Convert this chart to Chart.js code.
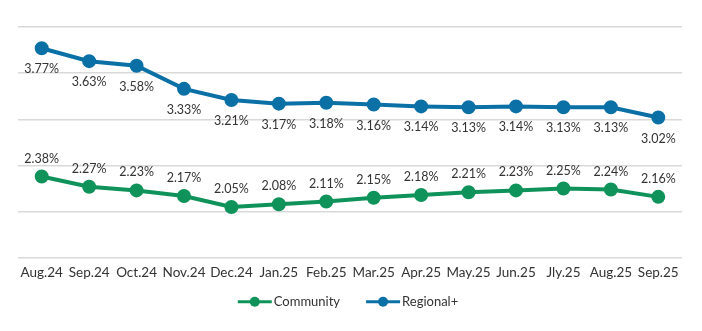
<!DOCTYPE html>
<html>
<head>
<meta charset="utf-8">
<script src="https://cdn.jsdelivr.net/npm/chart.js@4.4.1/dist/chart.umd.min.js"></script>
<style>
  html, body { margin: 0; padding: 0; background: #fff; }
  #wrap { width: 702px; height: 331px; }
</style>
</head>
<body>
<div id="wrap"><canvas id="rates"></canvas></div>
<script>
// monthly rates, %
const months = ['Aug.24', 'Sep.24', 'Oct.24', 'Nov.24', 'Dec.24', 'Jan.25', 'Feb.25',
                'Mar.25', 'Apr.25', 'May.25', 'Jun.25', 'Jly.25', 'Aug.25', 'Sep.25'];
const community = [2.38, 2.27, 2.23, 2.17, 2.05, 2.08, 2.11, 2.15, 2.18, 2.21, 2.23, 2.25, 2.24, 2.16];
const regional = [3.77, 3.63, 3.58, 3.33, 3.21, 3.17, 3.18, 3.16, 3.14, 3.13, 3.14, 3.13, 3.13, 3.02];

const GREEN = '#10935a';
const BLUE = '#0b70a5';
const FONT = 'Lato, "Noto Sans", sans-serif';

// value labels: above the green line, below the blue one
const valueLabels = {
    id: 'valueLabels',
    afterDatasetsDraw(chart) {
        const ctx = chart.ctx;
        ctx.save();
        ctx.font = '12.5px ' + FONT;
        ctx.fillStyle = '#333';
        ctx.textAlign = 'center';
        ctx.textBaseline = 'middle';
        chart.data.datasets.forEach((ds, i) => {
            const meta = chart.getDatasetMeta(i);
            const dy = ds.labelBelow ? 21 : -18;
            meta.data.forEach((pt, j) => {
                ctx.fillText(ds.data[j].toFixed(2) + '%', pt.x, pt.y + dy);
            });
        });
        ctx.restore();
    }
};

// legend row under the axis: line-with-dot swatch, then the series name
const lineLegend = {
    id: 'lineLegend',
    afterDraw(chart) {
        const ctx = chart.ctx;
        const sw = 34, textGap = 2, itemGap = 26;
        const y = chart.chartArea.bottom + 44;
        ctx.save();
        ctx.font = '13px ' + FONT;
        ctx.textBaseline = 'middle';
        const items = chart.data.datasets.map(ds => ({
            ds, w: sw + textGap + ctx.measureText(ds.label).width
        }));
        const total = items.reduce((s, it) => s + it.w, 0) + itemGap * (items.length - 1);
        let x = (chart.chartArea.left + chart.chartArea.right) / 2 - 2 - total / 2;
        items.forEach(({ds, w}) => {
            ctx.strokeStyle = ds.borderColor;
            ctx.fillStyle = ds.borderColor;
            ctx.lineWidth = 3;
            ctx.beginPath();
            ctx.moveTo(x, y);
            ctx.lineTo(x + sw, y);
            ctx.stroke();
            ctx.beginPath();
            ctx.arc(x + sw / 2, y, 5, 0, Math.PI * 2);
            ctx.fill();
            ctx.fillStyle = '#333';
            ctx.fillText(ds.label, x + sw + textGap, y);
            x += w + itemGap;
        });
        ctx.restore();
    }
};

const ctx = document.getElementById('rates').getContext('2d');
new Chart(ctx, {
    type: 'line',
    data: {
        labels: months,
        datasets: [{
            label: 'Community',
            data: community,
            borderColor: GREEN,
            backgroundColor: GREEN,
            borderWidth: 4,
            pointRadius: 5,
            pointHoverRadius: 5,
            pointStyle: 'circle',
            tension: 0,
            labelBelow: false
        }, {
            label: 'Regional+',
            data: regional,
            borderColor: BLUE,
            backgroundColor: BLUE,
            borderWidth: 4,
            pointRadius: 5,
            pointHoverRadius: 5,
            pointStyle: 'circle',
            tension: 0,
            labelBelow: true
        }]
    },
    options: {
        responsive: true,
        maintainAspectRatio: false,
        animation: false,
        layout: { padding: { left: 18, right: 20, top: 27, bottom: 43 } },
        scales: {
            x: {
                offset: true,
                grid: { display: false, drawTicks: false },
                border: { display: false },
                ticks: {
                    color: '#333',
                    font: { family: FONT, size: 13.5 },
                    padding: 7,
                    maxRotation: 0,
                    minRotation: 0,
                    autoSkip: false
                }
            },
            y: {
                min: 1.5,
                max: 4.0,
                ticks: { display: false, stepSize: 0.5 },
                border: { display: false },
                grid: { color: '#d9d9d9', lineWidth: 1.5, drawTicks: false }
            }
        },
        plugins: {
            legend: { display: false },
            tooltip: { enabled: false }
        }
    },
    plugins: [valueLabels, lineLegend]
});
</script>
</body>
</html>
